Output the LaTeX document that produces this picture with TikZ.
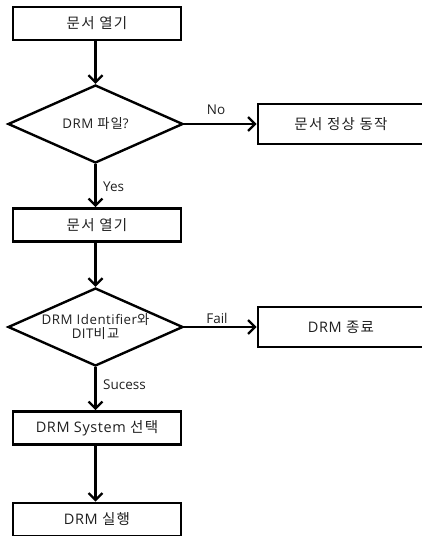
\documentclass[tikz,border=0pt]{standalone}
\usepackage{fontspec}
\setmainfont[LetterSpace=9]{Noto Sans CJK KR}
\newfontfamily\lat[LetterSpace=4]{Open Sans}
\newfontfamily\latl{Open Sans}
\usetikzlibrary{shapes.geometric,arrows.meta}
\begin{document}
\begin{tikzpicture}[x=1pt,y=-1pt,
  every node/.style={text=black!88},
  box/.style={draw=black, line width=2.6pt, minimum width=168pt, minimum height=33pt, inner sep=0pt, font=\fontsize{14.5}{16}\selectfont},
  rbox/.style={draw=black, line width=2.6pt, minimum width=166pt, minimum height=40pt, inner sep=0pt, font=\fontsize{14.5}{16}\selectfont},
  dec/.style={draw=black, line width=2.4pt, diamond, minimum width=175pt, minimum height=78pt, inner sep=0pt},
  dtext/.style={inner sep=0pt, font=\fontsize{13.3}{14}\selectfont, align=center},
  arr/.style={line width=2.3pt, -{Straight Barb[length=7pt,width=14pt]}},
  lbl/.style={font=\latl\fontsize{13.5}{15}\selectfont, inner sep=0pt}]
\useasboundingbox (0,0) rectangle (422,536);
\clip (0,0) rectangle (422,536);
\node[box] (b1) at (97,23.5) {문서 열기};
\node[dec] (d1) at (95.5,124) {};
\node[dtext] (t1) at (d1.center) {{\lat DRM }파일{\lat ?}};
\node[rbox] (r1) at (341,124) {문서 정상 동작};
\node[box] (b2) at (97,225) {문서 열기};
\node[dec] (d2) at (95.5,327) {};
\node[dtext] (t2) at (d2.center) {{\lat DRM Identifier}와\\{\lat DIT}비교};
\node[rbox] (r2) at (341,327) {{\lat DRM }종료};
\node[box] (b3) at (97,428) {{\lat DRM System }선택};
\node[box] (b4) at (97,519.5) {{\lat DRM }실행};
\draw[arr] (b1.south -| d1.north) -- (d1.north);
\draw[arr] (d1.east) -- (r1.west);
\draw[arr] (d1.south) -- (b2.north -| d1.south);
\draw[arr] (b2.south -| d2.north) -- (d2.north);
\draw[arr] (d2.east) -- (r2.west);
\draw[arr] (d2.south) -- (b3.north -| d2.south);
\draw[arr] (b3.south -| d2.south) -- (b4.north -| d2.south);
\node[lbl] (lno) at (216,110) {No};
\node[lbl, anchor=west] (lyes) at (103,187) {Yes};
\node[lbl] (lfail) at (217,318) {Fail};
\node[lbl, anchor=west] (lsuc) at (103,385) {Sucess};
\end{tikzpicture}
\end{document}
